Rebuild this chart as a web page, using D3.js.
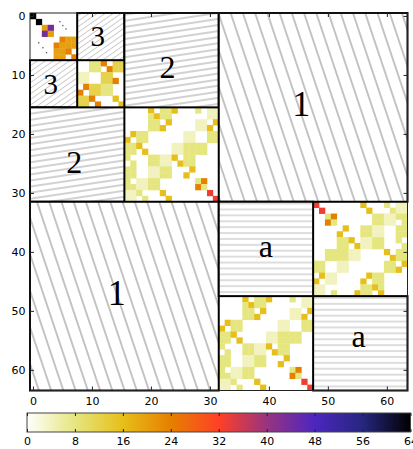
<!DOCTYPE html>
<html><head><meta charset="utf-8">
<script src="https://cdn.jsdelivr.net/npm/d3@7"></script>
<style>body{margin:0;background:#fff} svg{display:block}</style>
</head><body>
<svg id="chart" width="413" height="449"></svg>
<script>
// ---------------- data ----------------
const matrixSize = 64;
const axisTicks = [0, 10, 20, 30, 40, 50, 60];
const colorbarTicks = [0, 8, 16, 24, 32, 40, 48, 56, 64];
const colorMax = 64;

// cell codes -> values
const codeValues = {'.': 0, 'p': 4, 'l': 8, 'y': 12, 'g': 16, 'o': 20, 'O': 24, 'R': 33, 'P': 44, 'K': 64};

// rows 0-7, cols 0-7
const blockA = [
  "K.......",
  ".K......",
  "..oP....",
  "..Po....",
  ".....Ooo",
  "....Oooo",
  "....ooO.",
  "....oo.O"
];
// rows 8-15, cols 8-15
const blockC = [
  "..llO.yy",
  "..ll.Oyy",
  "pp..yy..",
  "pp..yyO.",
  ".Oyyll..",
  "O.yyll..",
  "yyO...g.",
  "yy.O...g"
];
// rows 16-31, cols 16-31 (same picture at rows 48-63, cols 32-47)
const blockB = [
  "....g.llg...l.pp",
  "....lgll......pp",
  "....ll.g....pp.g",
  "....llg.....ppg.",
  ".gll......pp..ll",
  "g.ll......pp..ll",
  "llg.....ppllll..",
  "ll.g....ppllll..",
  "l...llppg.ll....",
  ".l..llpp.gll....",
  "ll..ppll...g....",
  "ll..ppll..g.....",
  "l.ppll......lO..",
  "llppll......Ol..",
  "ppl...g.......R.",
  "pp.l...g.......R"
];
// rows 32-47, cols 48-63
const blockD = [
  "R.......g...l.pp",
  ".R.......g...lpp",
  "..lO......llppll",
  "..Ol......llpp.l",
  ".....g..llpp..ll",
  "....g...llpp..ll",
  "....llg.ppll..l.",
  "....ll.gppll...l",
  "..llllpp....g.ll",
  "..llllpp.....gll",
  "ll..pp......ll.g",
  "ll..pp......llg.",
  ".gpp.....gll....",
  "g.pp....g.ll....",
  "pp......llgl....",
  "pp.l...gll.g...."
];

const denseBlocks = [
  {row0: 0, col0: 0, rows: blockA},
  {row0: 8, col0: 8, rows: blockC},
  {row0: 16, col0: 16, rows: blockB},
  {row0: 32, col0: 48, rows: blockD},
  {row0: 48, col0: 32, rows: blockB}
];

// tiny dark specks inside the first block (matrix coordinates)
const speckCols = [4.55, 5.05, 5.6, 0.97, 1.68, 2.3];
const speckRows = [0.97, 1.62, 2.2, 4.54, 5.38, 6.2];

// hatched (low-rank) blocks: [row0, col0, size, label, hatch, labelCol, labelRow]
const hatchRow0  = [0, 8, 0, 16, 0, 32, 32, 48];
const hatchCol0  = [8, 0, 16, 0, 32, 0, 32, 48];
const hatchSize  = [8, 8, 16, 16, 32, 32, 16, 16];
const hatchLabel = ["3", "3", "2", "2", "1", "1", "a", "a"];
const hatchKind  = ["h3", "h3", "h2", "h2", "h1", "h1", "ha", "ha"];
const labelCol   = [11.0, 3.0, 22.8, 7.0, 45.5, 14.2, 39.5, 55.2];
const labelRow   = [3.5, 11.5, 8.6, 24.7, 14.9, 46.9, 39.6, 54.9];

// ---------------- colour map (CMRmap reversed) ----------------
const cmr = {
  r: [[0,0],[0.125,0.15],[0.25,0.30],[0.375,0.60],[0.5,1.0],[0.625,0.90],[0.75,0.90],[0.875,0.90],[1,1]],
  g: [[0,0],[0.125,0.15],[0.25,0.15],[0.375,0.20],[0.5,0.25],[0.625,0.50],[0.75,0.75],[0.875,0.90],[1,1]],
  b: [[0,0],[0.125,0.50],[0.25,0.75],[0.375,0.50],[0.5,0.15],[0.625,0.0],[0.75,0.10],[0.875,0.50],[1,1]]
};
function chan(arr, t) {
  for (let i = 1; i < arr.length; i++) {
    if (t <= arr[i][0]) {
      const f = (t - arr[i-1][0]) / (arr[i][0] - arr[i-1][0]);
      return arr[i-1][1] + f * (arr[i][1] - arr[i-1][1]);
    }
  }
  return arr[arr.length-1][1];
}
function cmap(v) {
  const t = 1 - Math.max(0, Math.min(1, v / colorMax));
  return d3.rgb(chan(cmr.r, t) * 255, chan(cmr.g, t) * 255, chan(cmr.b, t) * 255).formatHex();
}

// ---------------- drawing ----------------
const svg = d3.select("#chart");
const x = d3.scaleLinear().domain([-0.5, matrixSize - 0.5]).range([30, 407.5]);
const y = d3.scaleLinear().domain([-0.5, matrixSize - 0.5]).range([13, 390.5]);
const cw = x(1) - x(0);

const defs = svg.append("defs");
const hatchStyles = {
  h1: {angle: 71.5, gap: 11.6, color: "#7a7a7a", w: 0.9},
  h2: {angle: -8.5, gap: 6.0, color: "#9a9a9a", w: 0.9},
  h3: {angle: -35, gap: 4.6, color: "#c4c4c4", w: 0.9},
  ha: {angle: 0, gap: 5.9, color: "#bcbcbc", w: 1.0}
};
Object.entries(hatchStyles).forEach(([id, s]) => {
  const p = defs.append("pattern").attr("id", id).attr("patternUnits", "userSpaceOnUse")
    .attr("width", 20).attr("height", s.gap)
    .attr("patternTransform", `rotate(${s.angle})`);
  p.append("rect").attr("width", 20).attr("height", s.gap).attr("fill", "#fff");
  p.append("line").attr("x1", 0).attr("x2", 20).attr("y1", s.gap / 2).attr("y2", s.gap / 2)
    .attr("stroke", s.color).attr("stroke-width", s.w);
});

// cells
const cells = [];
denseBlocks.forEach(b => {
  b.rows.forEach((row, r) => {
    row.split("").forEach((ch, c) => {
      const v = codeValues[ch];
      if (v > 0) cells.push({row: b.row0 + r, col: b.col0 + c, v});
    });
  });
});
svg.append("g").selectAll("rect").data(cells).join("rect")
  .attr("x", d => x(d.col - 0.5))
  .attr("y", d => y(d.row - 0.5))
  .attr("width", cw + 0.35)
  .attr("height", cw + 0.35)
  .attr("fill", d => cmap(d.v));

svg.append("g").selectAll("rect").data(speckCols.map((c, i) => ({c, r: speckRows[i]}))).join("rect")
  .attr("x", d => x(d.c) - 0.6).attr("y", d => y(d.r) - 0.6)
  .attr("width", 1.3).attr("height", 1.3).attr("fill", "#555");

// hatched blocks
const hb = hatchRow0.map((r0, i) => ({r0, c0: hatchCol0[i], s: hatchSize[i], label: hatchLabel[i],
  kind: hatchKind[i], lc: labelCol[i], lr: labelRow[i]}));
const hg = svg.append("g");
hg.selectAll("rect").data(hb).join("rect")
  .attr("x", d => x(d.c0 - 0.5)).attr("y", d => y(d.r0 - 0.5))
  .attr("width", d => x(d.c0 + d.s - 0.5) - x(d.c0 - 0.5))
  .attr("height", d => y(d.r0 + d.s - 0.5) - y(d.r0 - 0.5))
  .attr("fill", d => `url(#${d.kind})`)
  .attr("stroke", "#000").attr("stroke-width", 2);

const fontSizes = {"1": 36, "2": 32, "3": 29, "a": 32};
hg.selectAll("text").data(hb).join("text")
  .attr("x", d => x(d.lc)).attr("y", d => y(d.lr))
  .attr("dy", d => d.label === "a" ? "0.23em" : "0.34em")
  .attr("text-anchor", "middle")
  .attr("font-family", "'Liberation Serif', 'DejaVu Serif', serif")
  .attr("font-size", d => fontSizes[d.label])
  .attr("fill", "#000")
  .text(d => d.label);

// frame
svg.append("rect").attr("x", x(-0.5)).attr("y", y(-0.5))
  .attr("width", x(matrixSize - 0.5) - x(-0.5)).attr("height", y(matrixSize - 0.5) - y(-0.5))
  .attr("fill", "none").attr("stroke", "#222").attr("stroke-width", 1);

// axes
const tickFont = "'DejaVu Sans', sans-serif";
function styleAxis(g) {
  g.select(".domain").remove();
  g.selectAll("line").attr("stroke", "#222");
  g.selectAll("text").attr("font-family", tickFont).attr("font-size", 11).attr("fill", "#000");
}
svg.append("g").attr("transform", `translate(0,${y(matrixSize - 0.5)})`)
  .call(d3.axisBottom(x).tickValues(axisTicks).tickSizeInner(-4).tickSizeOuter(0).tickPadding(6.7))
  .call(styleAxis);
svg.append("g").attr("transform", `translate(0,${y(-0.5)})`)
  .call(d3.axisTop(x).tickValues(axisTicks).tickSizeInner(-4).tickSizeOuter(0).tickFormat(""))
  .call(styleAxis);
svg.append("g").attr("transform", `translate(${x(-0.5)},0)`)
  .call(d3.axisLeft(y).tickValues(axisTicks).tickSizeInner(-4).tickSizeOuter(0).tickPadding(4.5))
  .call(styleAxis);
svg.append("g").attr("transform", `translate(${x(matrixSize - 0.5)},0)`)
  .call(d3.axisRight(y).tickValues(axisTicks).tickSizeInner(-4).tickSizeOuter(0).tickFormat(""))
  .call(styleAxis);

// colorbar
const cb = d3.scaleLinear().domain([0, colorMax]).range([27, 410.5]);
const cbTop = 413, cbH = 19;
const grad = defs.append("linearGradient").attr("id", "cbgrad")
  .attr("x1", "0%").attr("x2", "100%").attr("y1", "0%").attr("y2", "0%");
d3.range(0, 129).forEach(i => {
  const v = i / 128 * colorMax;
  grad.append("stop").attr("offset", `${i / 128 * 100}%`).attr("stop-color", cmap(v));
});
svg.append("rect").attr("x", cb(0)).attr("y", cbTop).attr("width", cb(colorMax) - cb(0)).attr("height", cbH)
  .attr("fill", "url(#cbgrad)").attr("stroke", "#444").attr("stroke-width", 1);
svg.append("g").attr("transform", `translate(0,${cbTop + cbH})`)
  .call(d3.axisBottom(cb).tickValues(colorbarTicks).tickSizeInner(-3).tickSizeOuter(0).tickPadding(5.2))
  .call(styleAxis);
svg.append("g").attr("transform", `translate(0,${cbTop})`)
  .call(d3.axisTop(cb).tickValues(colorbarTicks).tickSizeInner(-3).tickSizeOuter(0).tickFormat(""))
  .call(styleAxis);
</script>
</body></html>
